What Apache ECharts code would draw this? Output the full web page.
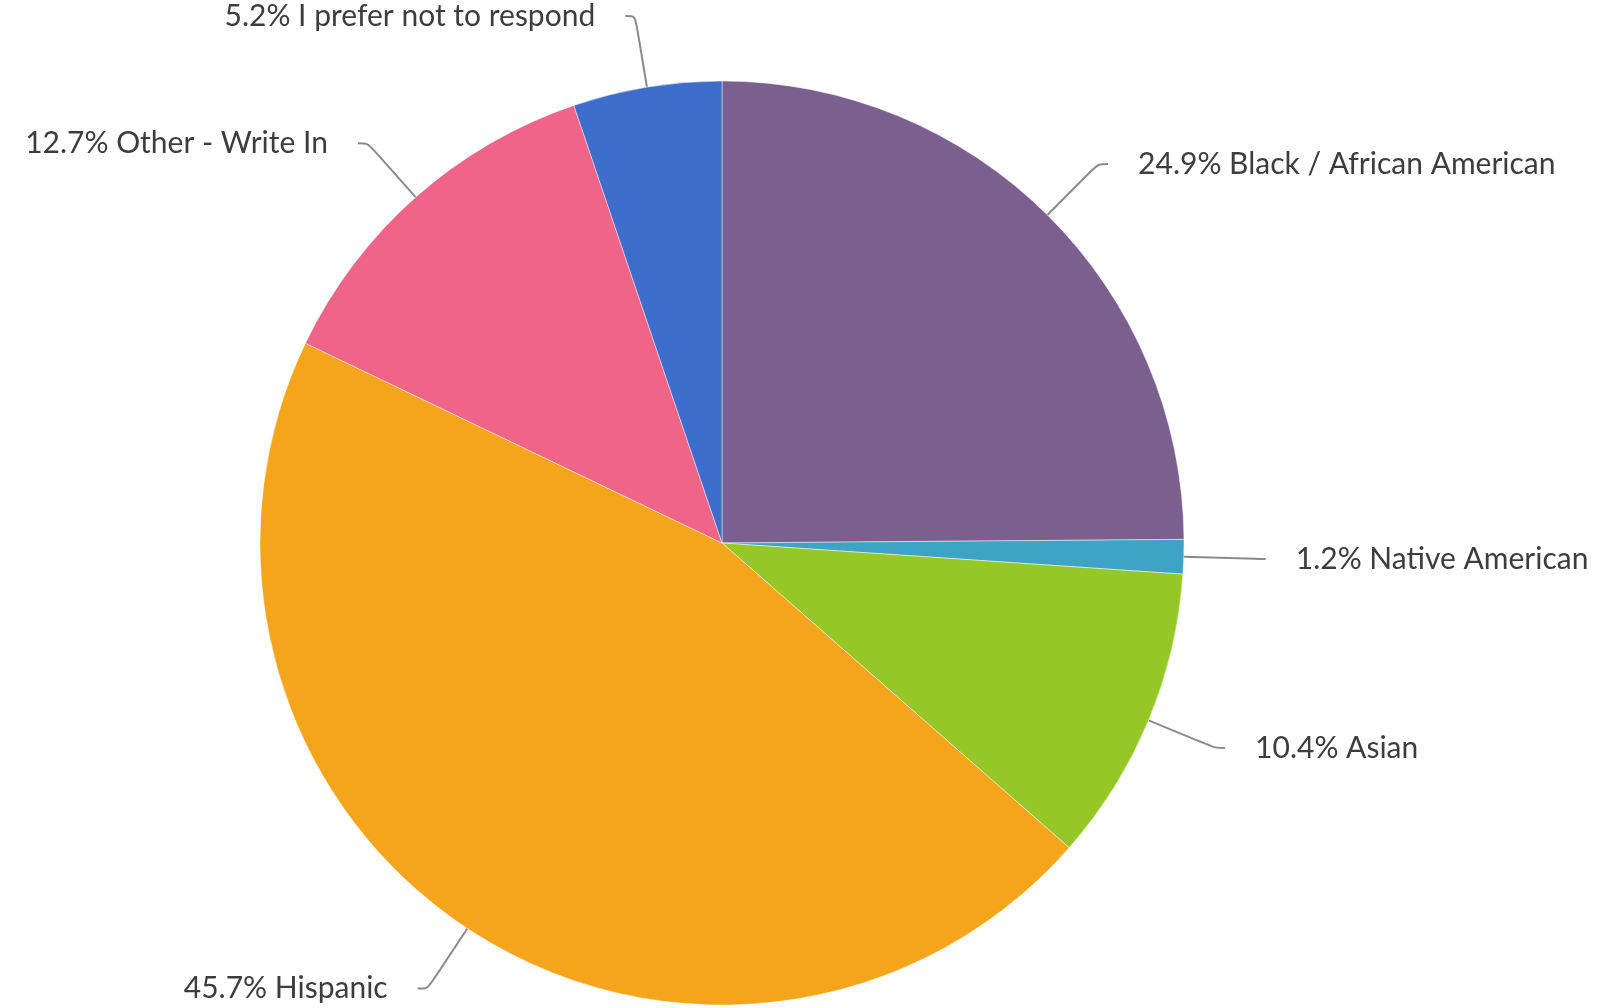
<!DOCTYPE html>
<html>
<head>
<meta charset="utf-8">
<script src="https://cdn.jsdelivr.net/npm/echarts@6/dist/echarts.min.js"></script>
<style>
  html, body { margin: 0; padding: 0; background: #fff; }
  #chart { width: 1606px; height: 1008px; }
</style>
</head>
<body>
<div id="chart"></div>
<script>
const categories = [
  'Black / African American',
  'Native American',
  'Asian',
  'Hispanic',
  'Other - Write In',
  'I prefer not to respond'
]
const shares = [24.9, 1.2, 10.4, 45.7, 12.7, 5.2]
const colors = ['#7b5f8e', '#3ea3c4', '#95c826', '#f5a51b', '#ef6487', '#3e6dcb']

const chart = echarts.init(document.getElementById('chart'))

const option = {
  backgroundColor: '#fff',
  animation: false,
  series: [{
    type: 'pie',
    center: [722, 543],
    radius: 462,
    startAngle: 90,
    clockwise: true,
    data: categories.map((name, i) => ({
      name,
      value: shares[i],
      itemStyle: { color: colors[i] }
    })),
    itemStyle: { borderColor: 'rgba(255,255,255,0.45)', borderWidth: 1 },
    label: {
      show: true,
      position: 'outside',
      formatter: (p) => `${p.value.toFixed(1)}% ${p.name}`,
      fontFamily: 'Lato',
      fontSize: 30,
      color: '#3d3d3d',
      padding: [12, 0, 0, 0],
      distanceToLabelLine: 30
    },
    labelLine: {
      show: true,
      length: 72,
      length2: 10,
      smooth: 0.3,
      lineStyle: { color: '#8a8a8a', width: 2 }
    }
  }]
}

chart.setOption(option)
</script>
</body>
</html>
